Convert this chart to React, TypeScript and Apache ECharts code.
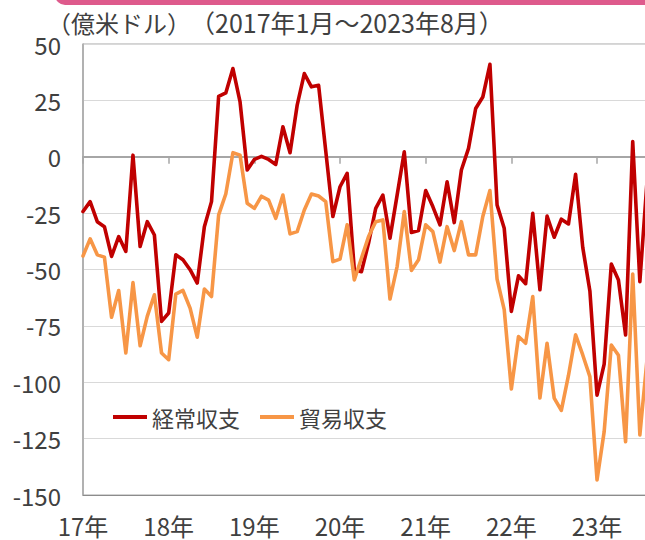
import React, { useEffect, useRef } from "react";
import * as echarts from "echarts";

const FONT = "'Noto Sans CJK JP', 'Noto Sans', sans-serif";
const TEXT_COLOR = "#404040";

const unitText = "（億米ドル）";
const periodText = "（2017年1月～2023年8月）";
const seriesNames = ["経常収支", "貿易収支"];

// monthly categories 2017/01 .. 2023/08
const startYear = 2017;
const endYear = 2023;
const endMonth = 8;
const categories: string[] = [];
for (let y = startYear; y <= endYear; y++) {
  for (let m = 1; m <= 12; m++) {
    if (y === endYear && m > endMonth) break;
    categories.push(`${y}/${String(m).padStart(2, "0")}`);
  }
}

// 経常収支 (current account)
const currentAccount = [
  -24.3, -19.9, -28.8, -31, -44.2, -35.4, -42, 0.7, -39.8, -28.8, -34.7, -73,
  -69.3, -43.5, -45.7, -50.1, -56, -31, -19.9, 26.8, 28.3, 39.1, 24.3, -5.9,
  -1.2, 0.2, -1.2, -3.4, 13.3, 1.8, 22.9, 36.9, 31, 31.7, 2.6, -26.5,
  -13.3, -7.4, -50, -51, -38.3, -22.9, -17, -36.1, -17, 2.2, -33.6, -32.7,
  -15, -22.1, -30.2, -11.1, -29.2, -5.9, 3.7, 21.4, 26.5, 41, -21.4, -31.7,
  -68.6, -52.8, -56.3, -25.1, -59, -26.3, -35.7, -27.7, -29.8, -7.8, -40.2, -59.5,
  -105.7, -92, -47.6, -54.7, -79, 6.7, -55.4, -11,
];

// 貿易収支 (trade balance)
const tradeBalance = [
  -44, -36.4, -43.5, -44.5, -71.2, -59.3, -87, -55.8, -83.8, -70.8, -61.2, -87,
  -90, -60.9, -59.3, -67.1, -80, -58.7, -62, -25.8, -16.5, 1.8, 0.7, -20.6,
  -22.9, -17.5, -19.2, -27.3, -17, -34.2, -33.2, -23.6, -16.5, -17.4, -19.9, -46.5,
  -45.4, -30.2, -54.6, -45, -35.4, -28.8, -28, -63.1, -48.7, -24.3, -50.4, -45.7,
  -30.2, -33.2, -46.7, -31, -41.6, -28.8, -43.5, -43.5, -26.5, -15, -54.3, -67.8,
  -103, -79.7, -82.7, -62, -107, -82.7, -107, -112.5, -97, -79, -87.9, -97.5,
  -143.3, -121.9, -83.5, -88, -126.4, -52, -123.4, -90,
];

const yMin = -150;
const yMax = 50;
const yStep = 25;

const COLORS = ["#C00000", "#F79646"];

export default function App() {
  const ref = useRef<HTMLDivElement>(null);

  useEffect(() => {
    if (!ref.current) return;
    const chart = echarts.init(ref.current, undefined, { renderer: "svg" });
    const isYearStart = (i: number) => i % 12 === 0;
    chart.setOption({
      animation: false,
      backgroundColor: "#ffffff",
      textStyle: { fontFamily: FONT },
      graphic: [
        {
          type: "rect",
          shape: { x: 55, y: -20, width: 700, height: 25, r: 10 },
          style: { fill: "#DE5A8C" },
          silent: true,
        },
        {
          type: "text",
          left: 47,
          top: 10,
          style: {
            text: unitText,
            fontSize: 24,
            fontFamily: FONT,
            fill: TEXT_COLOR,
          },
        },
        {
          type: "text",
          left: 190,
          top: 9,
          style: {
            text: periodText,
            fontSize: 25,
            fontFamily: FONT,
            fill: TEXT_COLOR,
          },
        },
      ],
      legend: {
        left: 108,
        top: 401,
        icon: "rect",
        itemWidth: 34,
        itemHeight: 4,
        itemGap: 20,
        textStyle: { fontSize: 22, color: TEXT_COLOR, fontFamily: FONT },
        data: seriesNames,
      },
      grid: {
        left: 83,
        top: 44,
        width: 564,
        height: 451,
        show: true,
        borderColor: "#A6A6A6",
        borderWidth: 1,
        containLabel: false,
      },
      xAxis: [
        {
          type: "category",
          data: categories,
          boundaryGap: false,
          position: "bottom",
          axisLine: { onZero: false, lineStyle: { color: "#8C8C8C", width: 1 } },
          axisTick: { show: false },
          axisLabel: {
            interval: (i: number) => isYearStart(i),
            formatter: (v: string) => `${v.slice(2, 4)}年`,
            fontSize: 24,
            color: TEXT_COLOR,
            fontFamily: FONT,
            margin: 18,
          },
          splitLine: { show: false },
        },
        {
          type: "category",
          data: categories,
          boundaryGap: false,
          position: "top",
          axisLine: { onZero: true, lineStyle: { color: "#A6A6A6", width: 2 } },
          axisTick: {
            show: true,
            inside: true,
            length: 7,
            interval: (i: number) => isYearStart(i),
            lineStyle: { color: "#A6A6A6", width: 1.5 },
          },
          axisLabel: { show: false },
          splitLine: { show: false },
        },
      ],
      yAxis: {
        type: "value",
        min: yMin,
        max: yMax,
        interval: yStep,
        axisLine: { show: true, lineStyle: { color: "#A6A6A6", width: 1.5 } },
        axisTick: { show: false },
        axisLabel: {
          fontSize: 24,
          color: TEXT_COLOR,
          fontFamily: FONT,
          margin: 22,
        },
        splitLine: { show: true, lineStyle: { color: "#D9D9D9", width: 1 } },
      },
      series: [
        {
          name: seriesNames[0],
          type: "line",
          data: currentAccount,
          xAxisIndex: 0,
          symbol: "none",
          color: COLORS[0],
          lineStyle: { width: 3.6, color: COLORS[0], join: "round", cap: "round" },
          z: 3,
        },
        {
          name: seriesNames[1],
          type: "line",
          data: tradeBalance,
          xAxisIndex: 0,
          symbol: "none",
          color: COLORS[1],
          lineStyle: { width: 3.6, color: COLORS[1], join: "round", cap: "round" },
          z: 4,
        },
      ],
    });
    return () => chart.dispose();
  }, []);

  return (
    <div
      style={{
        position: "fixed",
        left: 0,
        top: 0,
        width: 645,
        height: 540,
        overflow: "hidden",
        background: "#fff",
      }}
    >
      <div ref={ref} style={{ width: 660, height: 540 }} />
    </div>
  );
}
